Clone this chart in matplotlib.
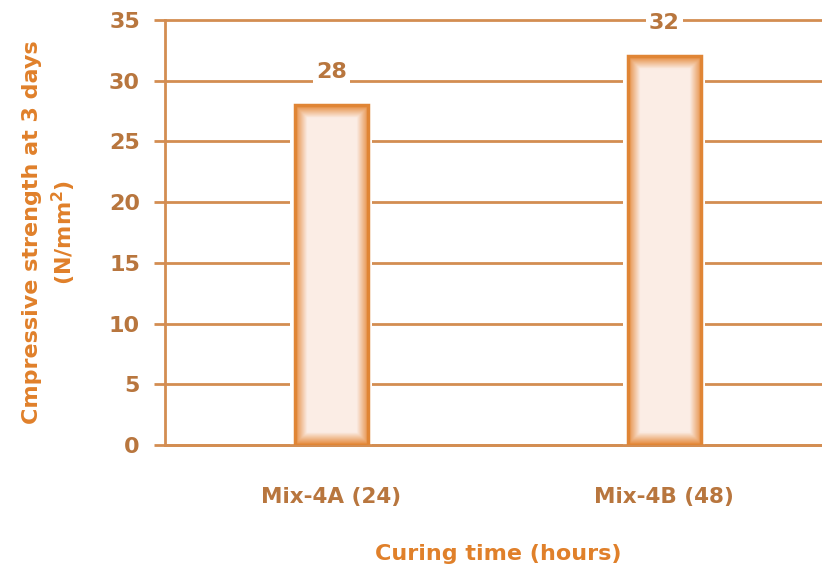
import numpy as np
import matplotlib
matplotlib.use('Agg')
import matplotlib.pyplot as plt

categories = ['Mix-4A (24)', 'Mix-4B (48)']
strength = [28, 32]
y_ticks = [0, 5, 10, 15, 20, 25, 30, 35]

TEXT = '#b8763e'
TITLE = '#e0802a'
LINE = '#d38d52'
EDGE = '#e08535'

plt.rcParams['font.family'] = ['DejaVu Sans']

fig = plt.figure(figsize=(8.22, 5.76), dpi=100)
ax = fig.add_axes([0.2007, 0.2274, 0.81, 0.7378])

x = np.arange(len(categories))
bars = ax.bar(x, strength, width=0.22, color='none', edgecolor=EDGE, linewidth=2.5, zorder=4)

# soft gradient fill: orange at the edges fading to pale pink inside
n = 200
u = np.linspace(0, 1, n)
for b in bars:
    x0, y0 = b.get_x(), b.get_y()
    w, h = b.get_width(), b.get_height()
    px_w, px_h = 73.0, h * 12.14
    dx = np.minimum(u, 1 - u) * px_w
    dy = np.minimum(u, 1 - u) * px_h
    d = np.minimum(dx[None, :], dy[:, None])
    t = np.clip(d / 12.0, 0, 1)
    c0 = np.array([0.90, 0.55, 0.25])
    c1 = np.array([0.985, 0.93, 0.90])
    img = c0[None, None, :] * (1 - t[..., None]) + c1[None, None, :] * t[..., None]
    ax.imshow(img, extent=[x0, x0 + w, y0, y0 + h], aspect='auto', zorder=3,
              interpolation='bilinear')
    # white halo breaking the gridlines near the bar
    ax.bar(x0 + w / 2, h, width=w * 1.12, color='white', zorder=2)
    ax.annotate(str(int(h)), (x0 + w / 2, h), xytext=(0, 24), textcoords='offset points',
                ha='center', va='center', fontsize=16, fontweight='bold', color=TEXT,
                bbox=dict(boxstyle='square,pad=0.15', fc='white', ec='none'), zorder=5)

ax.set_xlim(-0.5, 1.5)
ax.set_ylim(0, 35)
ax.set_yticks(y_ticks)
ax.set_xticks(x)
ax.set_xticklabels(categories, fontsize=15.5, color=TEXT, fontweight='bold')
ax.tick_params(axis='y', labelsize=16, colors=TEXT, length=8, width=2, color=LINE, pad=10)
ax.tick_params(axis='x', length=0, pad=30)
for lab in ax.get_yticklabels():
    lab.set_color(TEXT)
    lab.set_fontweight('bold')

ax.yaxis.grid(True, color=LINE, linewidth=2, zorder=1, clip_on=False)
ax.set_axisbelow(True)
for s in ['top', 'right']:
    ax.spines[s].set_visible(False)
ax.spines['left'].set_color(LINE)
ax.spines['left'].set_linewidth(2)
ax.spines['bottom'].set_color(LINE)
ax.spines['bottom'].set_linewidth(2)

ax.set_ylabel('Cmpressive strength at 3 days\n(N/mm$^\\mathbf{2}$)', fontsize=16,
              fontweight='bold', color=TITLE, linespacing=1.35)
ax.yaxis.set_label_coords(-0.131, 0.5)
ax.set_xlabel('Curing time (hours)', fontsize=16, fontweight='bold', color=TITLE, labelpad=27)

fig.savefig('out.png', dpi=100)
